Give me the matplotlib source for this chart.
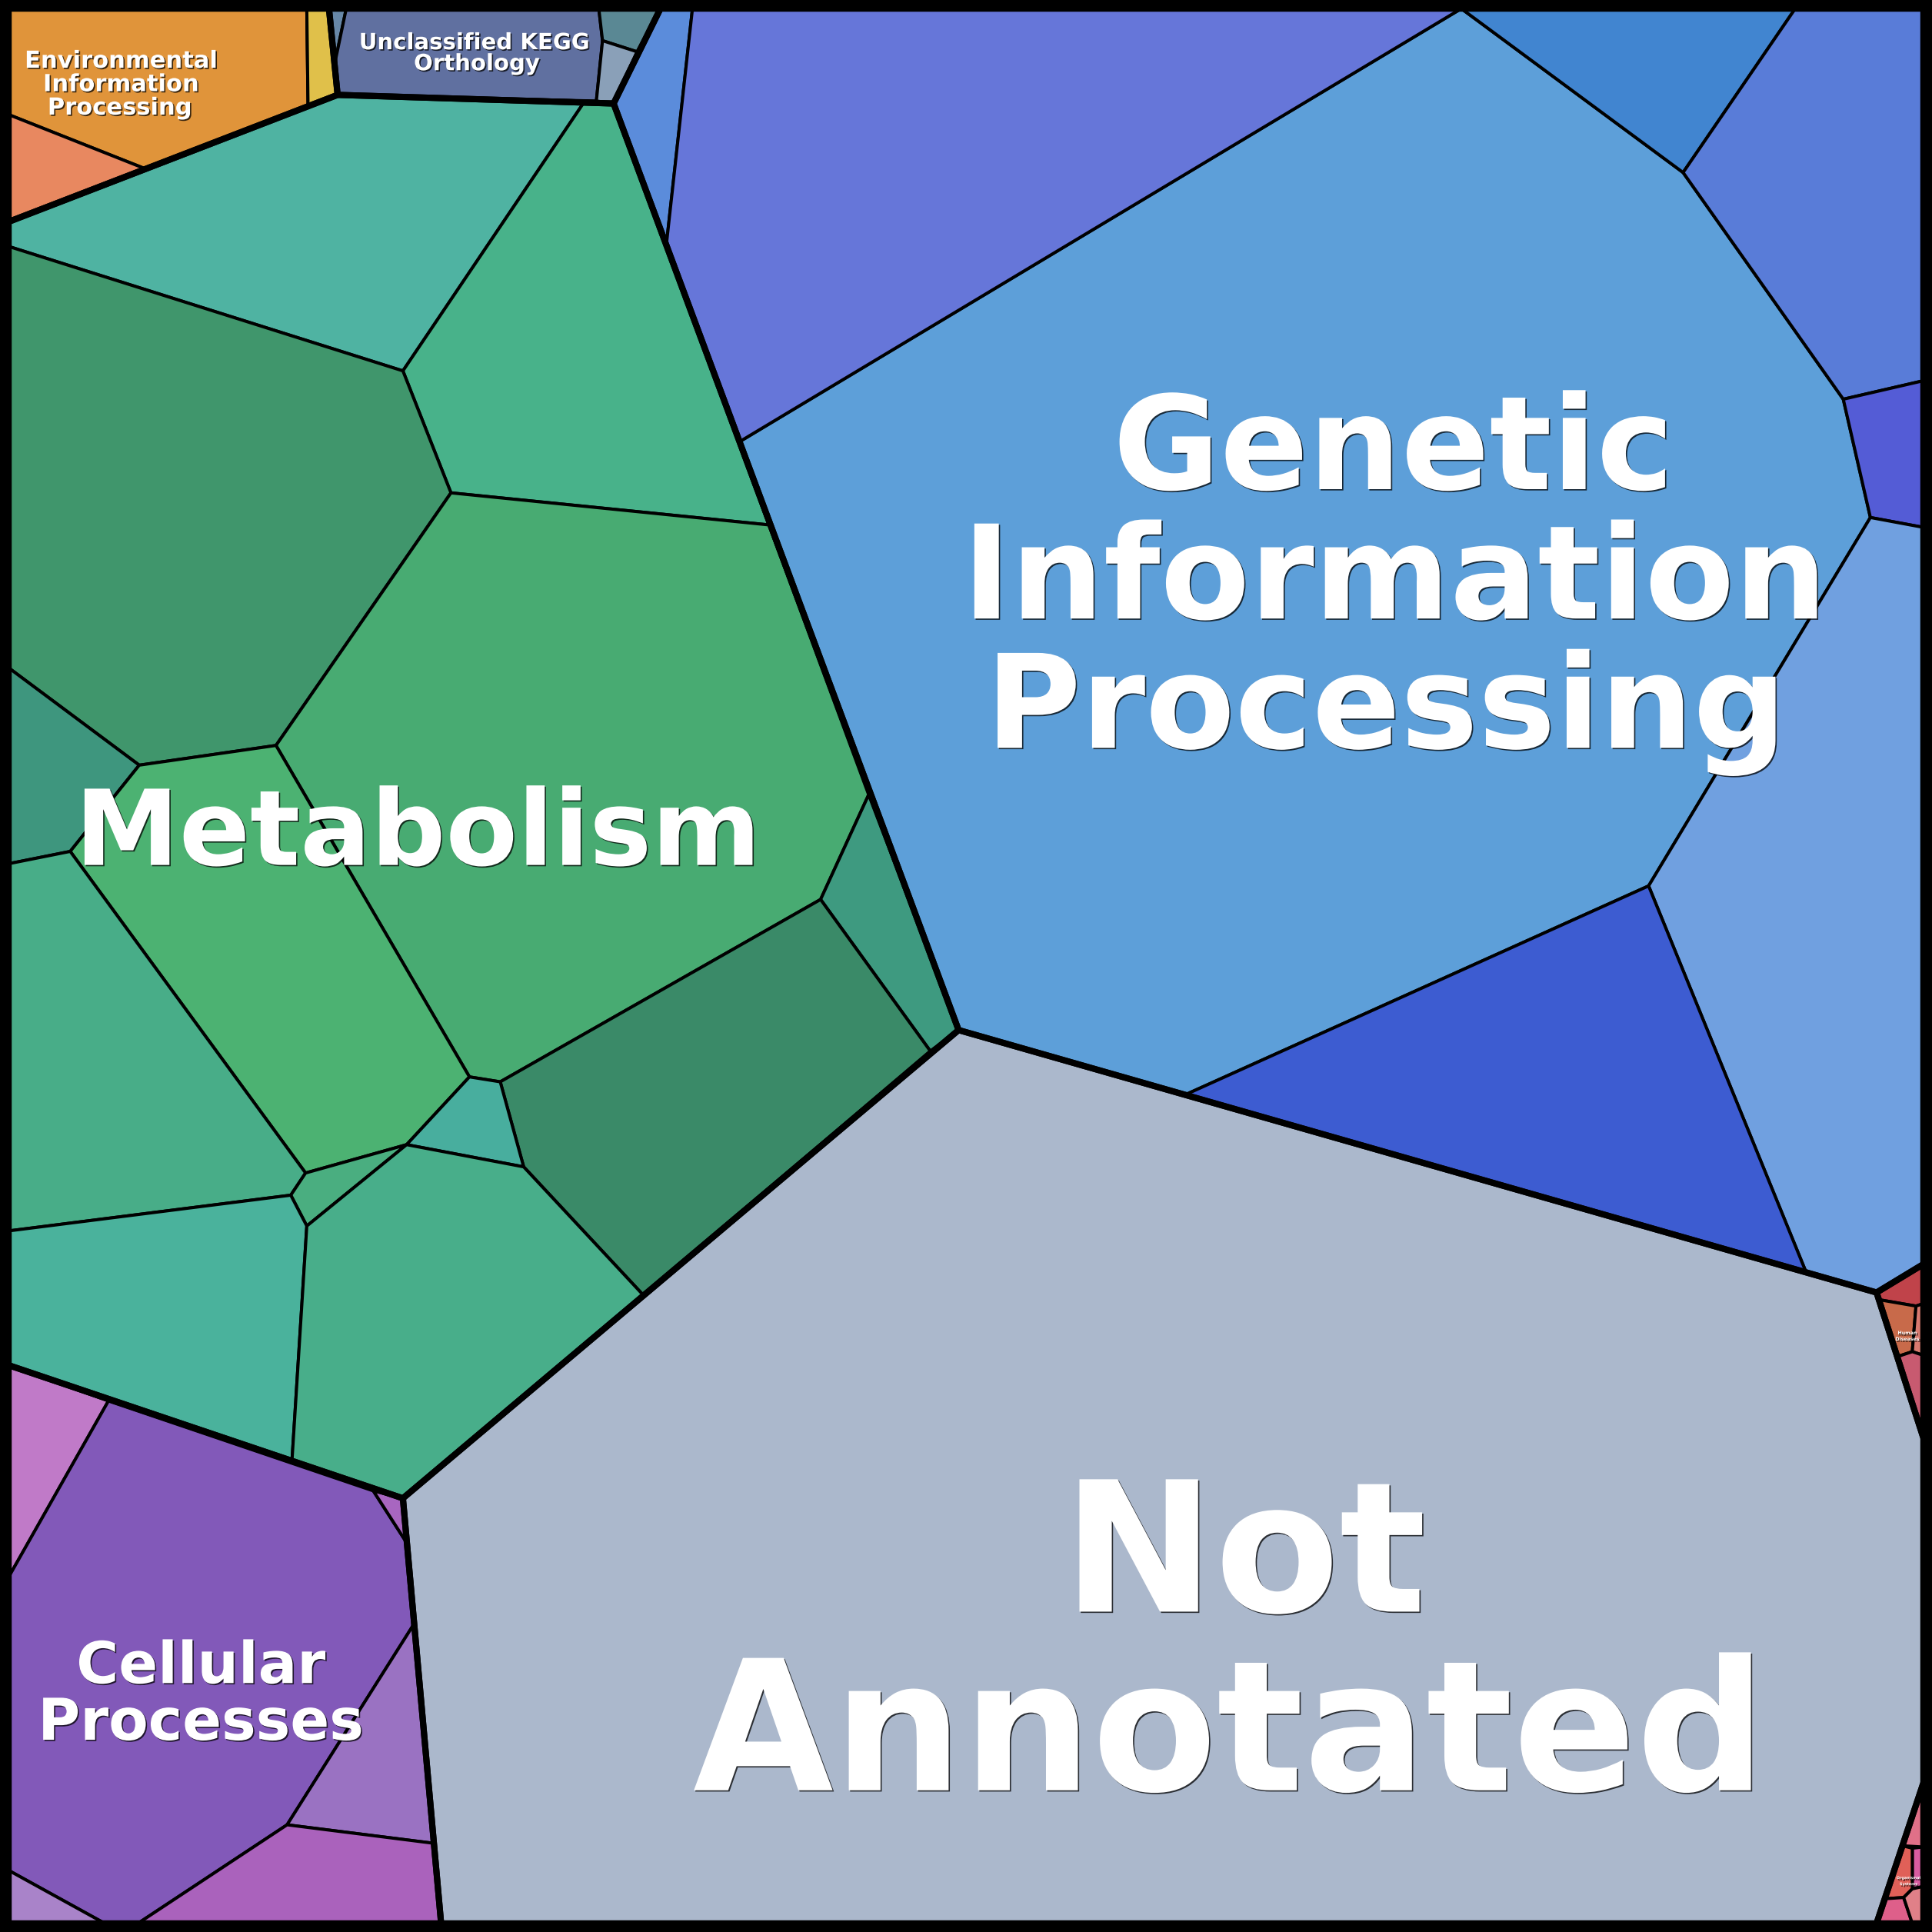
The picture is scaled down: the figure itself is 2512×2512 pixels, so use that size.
import matplotlib
matplotlib.use("Agg")
import matplotlib.pyplot as plt
import matplotlib.patheffects as pe
from matplotlib.patches import Polygon

# KEGG top-level categories drawn as a Voronoi treemap (canvas units 0..1568, y down)
categories = ["Metabolism", "Genetic Information Processing", "Not Annotated",
              "Cellular Processes", "Environmental Information Processing",
              "Unclassified KEGG Orthology", "Human Diseases", "Organismal Systems"]

# outline of each category cell
region_outlines = {
    "Environmental Information Processing": [(7, 7), (267, 7), (274, 77), (7, 180)],
    "Unclassified KEGG Orthology": [(267, 7), (536, 7), (498, 84), (274, 77)],
    "Metabolism": [(7, 180), (274, 77), (498, 84), (778, 836), (327, 1216), (7, 1108)],
    "Genetic Information Processing": [(536, 7), (1561, 7), (1561, 1026), (1523, 1049),
                                       (778, 836), (498, 84)],
    "Not Annotated": [(778, 836), (1523, 1049), (1561, 1167), (1561, 1447), (1523, 1561),
                      (358, 1561), (327, 1216)],
    "Cellular Processes": [(7, 1108), (327, 1216), (358, 1561), (7, 1561)],
    "Human Diseases": [(1523, 1049), (1561, 1026), (1561, 1167)],
    "Organismal Systems": [(1561, 1447), (1561, 1561), (1523, 1561)],
}

# sub-cells (second level) and their colours
env_cells = [
    [(7, 7), (249, 7), (250, 86), (118, 137), (7, 93)],
    [(7, 93), (118, 137), (7, 180)],
    [(249, 7), (267, 7), (274, 77), (250, 86)],
]
env_colors = ["#e0943a", "#e88860", "#e0c04a"]

unclassified_cells = [
    [(267, 7), (281, 7), (272, 50)],
    [(281, 7), (486, 7), (489, 33), (484, 82), (274, 77), (272, 50)],
    [(486, 7), (536, 7), (517, 42), (489, 33)],
    [(489, 33), (517, 42), (498, 84), (484, 82)],
]
unclassified_colors = ["#6888a8", "#6070a0", "#5a8894", "#8aa0b8"]

metabolism_cells = [
    [(7, 180), (274, 77), (474, 83), (327, 301), (7, 200)],
    [(474, 83), (498, 84), (624, 426), (366, 400), (327, 301)],
    [(7, 200), (327, 301), (366, 400), (224, 605), (113, 621), (7, 542)],
    [(7, 542), (113, 621), (57, 691), (7, 701)],
    [(366, 400), (624, 426), (705, 645), (666, 730), (406, 878), (381, 874), (224, 605)],
    [(113, 621), (224, 605), (381, 874), (330, 929), (248, 952), (57, 691)],
    [(7, 701), (57, 691), (248, 952), (236, 970), (7, 999)],
    [(705, 645), (778, 836), (755, 853), (666, 730)],
    [(406, 878), (666, 730), (755, 853), (522, 1051), (425, 947)],
    [(381, 874), (406, 878), (425, 947), (330, 929)],
    [(248, 952), (330, 929), (249, 995), (236, 970)],
    [(7, 999), (236, 970), (249, 995), (237, 1185), (7, 1108)],
    [(249, 995), (330, 929), (425, 947), (522, 1051), (327, 1216), (237, 1185)],
]
metabolism_colors = ["#4fb3a2", "#48b28a", "#40966c", "#3e967e", "#48ab72", "#4cb272",
                     "#48ad88", "#3e9a80", "#3a8a68", "#48ae9e", "#4aae80", "#4ab29c",
                     "#48ae8a"]

genetic_cells = [
    [(601, 358), (1186, 7), (1366, 140), (1496, 324), (1518, 420), (1338, 719),
     (963, 888), (778, 836)],
    [(536, 7), (562, 7), (541, 197), (498, 84)],
    [(562, 7), (1186, 7), (601, 358), (541, 197)],
    [(1186, 7), (1457, 7), (1366, 140)],
    [(1457, 7), (1561, 7), (1561, 309), (1496, 324), (1366, 140)],
    [(1496, 324), (1561, 309), (1561, 428), (1518, 420)],
    [(1518, 420), (1561, 428), (1561, 1026), (1523, 1049), (1466, 1033), (1338, 719)],
    [(963, 888), (1338, 719), (1466, 1033)],
]
genetic_colors = ["#5d9fd9", "#5b8cdb", "#6676d9", "#4185d0", "#597cd8", "#545cd6",
                  "#70a0e0", "#3d5cd1"]

not_annotated_cells = [region_outlines["Not Annotated"]]
not_annotated_colors = ["#abb8cc"]

cellular_cells = [
    [(7, 1108), (88, 1137), (7, 1280)],
    [(7, 1280), (88, 1137), (303, 1210), (330, 1252), (336, 1318), (233, 1481),
     (112, 1561), (85, 1561), (7, 1518)],
    [(303, 1210), (327, 1216), (330, 1252)],
    [(336, 1318), (233, 1481), (352, 1496)],
    [(233, 1481), (352, 1496), (358, 1561), (112, 1561)],
    [(7, 1518), (85, 1561), (7, 1561)],
]
cellular_colors = ["#c07ac8", "#8259b9", "#a866c0", "#9a72c2", "#aa62bc", "#a983c9"]

disease_cells = [
    [(1523, 1049), (1561, 1026), (1561, 1058), (1555, 1060), (1526, 1055)],
    [(1526, 1055), (1555, 1060), (1552, 1097), (1540, 1101)],
    [(1555, 1060), (1561, 1058), (1561, 1100), (1552, 1097)],
    [(1540, 1101), (1552, 1097), (1561, 1100), (1561, 1167)],
]
disease_colors = ["#c0434a", "#c86a4a", "#d87a70", "#c85a70"]

organismal_cells = [
    [(1561, 1447), (1561, 1499), (1544, 1498)],
    [(1552, 1500), (1561, 1499), (1561, 1531), (1552, 1533)],
    [(1544, 1498), (1552, 1500), (1552, 1533), (1545, 1540), (1530, 1541)],
    [(1530, 1541), (1545, 1540), (1552, 1561), (1523, 1561)],
    [(1545, 1540), (1552, 1533), (1561, 1531), (1561, 1561), (1552, 1561)],
]
organismal_colors = ["#e07088", "#d85ca0", "#e06058", "#de5f8a", "#e08088"]

cells = {
    "Metabolism": (metabolism_cells, metabolism_colors),
    "Genetic Information Processing": (genetic_cells, genetic_colors),
    "Not Annotated": (not_annotated_cells, not_annotated_colors),
    "Cellular Processes": (cellular_cells, cellular_colors),
    "Environmental Information Processing": (env_cells, env_colors),
    "Unclassified KEGG Orthology": (unclassified_cells, unclassified_colors),
    "Human Diseases": (disease_cells, disease_colors),
    "Organismal Systems": (organismal_cells, organismal_colors),
}

# label lines: (text, x, baseline y, font size)
labels = {
    "Genetic Information Processing": [("Genetic", 1131, 397, 122), ("Information", 1132, 502, 122),
                                       ("Processing", 1125, 607, 122)],
    "Not Annotated": [("Not", 1010, 1308, 170), ("Annotated", 998, 1453, 170)],
    "Metabolism": [("Metabolism", 339, 702, 98)],
    "Cellular Processes": [("Cellular", 163, 1366, 54), ("Processes", 163, 1412, 54)],
    "Environmental Information Processing": [("Environmental", 98, 55, 22),
                                             ("Information", 98, 74, 22),
                                             ("Processing", 97, 93, 22)],
    "Unclassified KEGG Orthology": [("Unclassified KEGG", 385, 40, 21), ("Orthology", 387, 57, 21)],
    "Human Diseases": [("Human", 1548, 1083, 4.5), ("Diseases", 1548, 1088, 4.5)],
    "Organismal Systems": [("Organismal", 1549, 1525, 3.5), ("Systems", 1549, 1530, 3.5)],
}

fig = plt.figure(figsize=(25.12, 25.12), dpi=100, facecolor="black")
ax = fig.add_axes([0, 0, 1, 1])
ax.set_xlim(0, 1568)
ax.set_ylim(1568, 0)
ax.axis("off")

for cat in categories:
    polys, colors = cells[cat]
    for verts, col in zip(polys, colors):
        ax.add_patch(Polygon(verts, closed=True, facecolor=col, edgecolor="black",
                             linewidth=2.9, joinstyle="round"))

for cat in categories:
    ax.add_patch(Polygon(region_outlines[cat], closed=True, fill=False, edgecolor="black",
                         linewidth=5.8, joinstyle="round"))

shadow = [pe.withSimplePatchShadow(offset=(1.2, -1.2), shadow_rgbFace="black", alpha=0.75)]
for cat in categories:
    for text, x, y, size in labels[cat]:
        ax.text(x, y, text, ha="center", va="baseline", color="white", fontsize=size,
                fontweight="bold", family="DejaVu Sans", path_effects=shadow)

fig.savefig("out.png", dpi=100, facecolor="black")
